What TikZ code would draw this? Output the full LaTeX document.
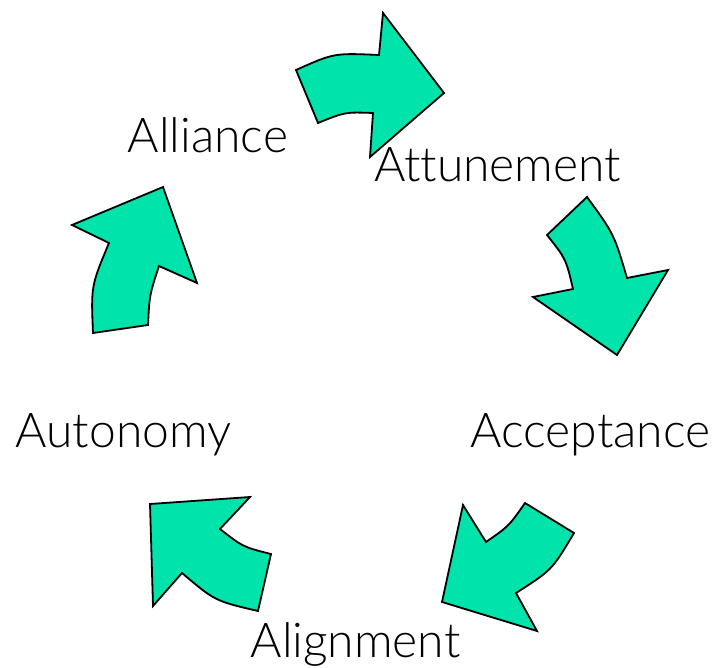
\documentclass[tikz,border=0pt]{standalone}
\usepackage{fontspec}
\setmainfont{Lato}[UprightFont=*-Light, Extension=.ttf, Ligatures=NoCommon]
\definecolor{cyclegreen}{HTML}{00E3AA}

\begin{document}
\begin{tikzpicture}[x=1pt, y=-1pt, thick,
                stage/.style={anchor=base, inner sep=0pt, font=\fontsize{48}{56}\selectfont},
                bigarrow/.style={draw=black, line width=1.8pt, fill=cyclegreen, line join=miter}]
                \useasboundingbox (0,0) rectangle (715,668);

                \node[stage] (alliance)   at (208,153)   {Alliance};
                \node[stage] (attunement) at (497.5,182) {Attunement};
                \node[stage] (acceptance) at (590.5,447) {Acceptance};
                \node[stage] (alignment)  at (355.5,657) {Alignment};
                \node[stage] (autonomy)   at (123.5,447) {Autonomy};

                % Alliance -> Attunement
                \draw[bigarrow] (296,70) .. controls (334,53) .. (379,55) -- (383,13) -- (444,93)
                    -- (370,157) -- (373,113) .. controls (345,112) .. (318,123) -- cycle;
                % Attunement -> Acceptance
                \draw[bigarrow] (587,197) .. controls (614,234) .. (627,278) -- (668,270) -- (617,355)
                    -- (533,297) -- (573,289) .. controls (566,259) .. (547,235) -- cycle;
                % Acceptance -> Alignment
                \draw[bigarrow] (574,533) .. controls (552,570) .. (516,593) -- (537,631) -- (442,602)
                    -- (463,505) -- (486,542) .. controls (509,526) .. (525,503) -- cycle;
                % Alignment -> Autonomy
                \draw[bigarrow] (258,611) .. controls (215,601) .. (182,573) -- (153,606) -- (150,504)
                    -- (250,497) -- (220,529) .. controls (243,547) .. (271,554) -- cycle;
                % Autonomy -> Alliance
                \draw[bigarrow] (93,333) .. controls (91,286) .. (109,243) -- (72,225) -- (163,187)
                    -- (197,283) -- (159,266) .. controls (149.5,295) .. (148,325) -- cycle;
            \end{tikzpicture}
\end{document}
